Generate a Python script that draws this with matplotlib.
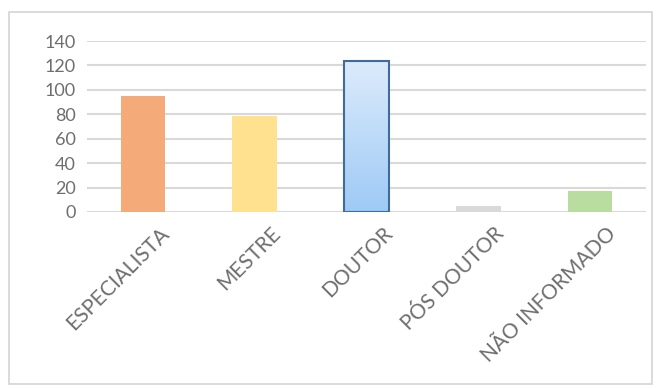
import matplotlib
matplotlib.use('Agg')
import matplotlib.pyplot as plt
import matplotlib.transforms as mtransforms
from matplotlib.colors import LinearSegmentedColormap
from matplotlib.patches import Rectangle
import numpy as np

plt.rcParams['font.family'] = ['Lato', 'DejaVu Sans']

# data
categories = ['ESPECIALISTA', 'MESTRE', 'DOUTOR', 'PÓS DOUTOR', 'NÃO INFORMADO']
values = [95, 79, 124, 5, 17]
colors = ['#F4AA79', '#FFE18F', '#C8E1FA', '#D9D9D9', '#B9DCA0']
yticks = [0, 20, 40, 60, 80, 100, 120, 140]

fig = plt.figure(figsize=(6.64, 3.88), dpi=100)
# outer chart border
fig.patches.append(Rectangle((9/664, 1-384/388), 643/664, 372/388, transform=fig.transFigure,
                             fill=False, edgecolor='#D4D4D4', linewidth=1.2))

ax = fig.add_axes([87/664, 1-212/388, 559/664, 171/388])
x = np.arange(len(categories))
bars = ax.bar(x, values, width=0.4, color=colors, zorder=3)

# DOUTOR bar: gradient fill with dark blue outline
b = bars[2]
b.set_edgecolor('#3F6C9D')
b.set_linewidth(1.5)
cmap = LinearSegmentedColormap.from_list('blu', ['#9ECAF6', '#DDEBFB'])
grad = np.linspace(0, 1, 256).reshape(-1, 1)
im = ax.imshow(grad, cmap=cmap, aspect='auto', origin='lower', zorder=3.5,
               extent=[b.get_x(), b.get_x() + b.get_width(), 0, b.get_height()])
im.set_clip_path(b)
b.set_facecolor('none')
b.set_zorder(4)

ax.set_xlim(-0.5, len(categories) - 0.5)
ax.set_ylim(0, 140)
ax.set_yticks(yticks)
ax.set_yticklabels([str(t) for t in yticks], fontsize=13, color='#6E6E6E')
ax.yaxis.grid(True, color='#D9D9D9', linewidth=1.5, zorder=0)
ax.set_axisbelow(True)
for s in ax.spines.values():
    s.set_visible(False)
ax.tick_params(length=0, pad=8)

ax.set_xticks(x)
ax.set_xticklabels(categories, rotation=45, ha='right', rotation_mode='anchor',
                   fontsize=15, color='#6E6E6E')
offset = mtransforms.ScaledTranslation(16/100, 0, fig.dpi_scale_trans)
for lbl in ax.get_xticklabels():
    lbl.set_transform(lbl.get_transform() + offset)

fig.savefig('out.png', dpi=100)
